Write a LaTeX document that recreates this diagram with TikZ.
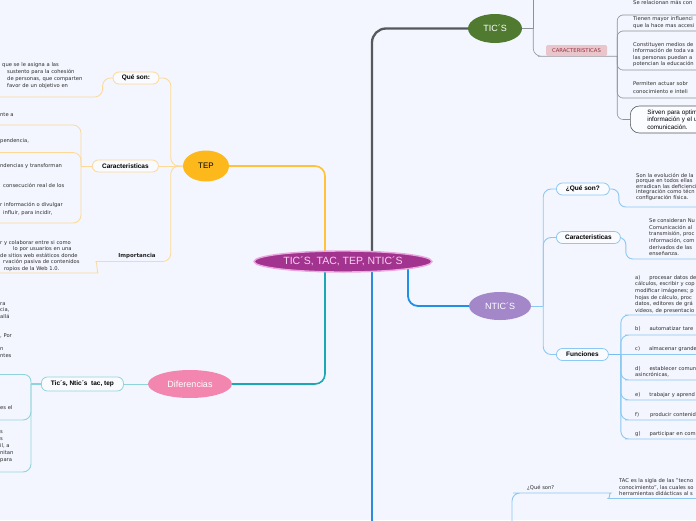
\documentclass[tikz,border=0pt]{standalone}
\usepackage{fontspec}
\setmainfont{DejaVu Sans}
\newfontfamily\rotulo{Liberation Sans}
\usetikzlibrary{shapes.geometric, positioning, backgrounds}
\definecolor{fondo}{HTML}{F3F6FE}
\definecolor{texto}{HTML}{2C2C2C}
\definecolor{centro}{HTML}{A2338F}
\definecolor{centroborde}{HTML}{EBA6E0}
\definecolor{centrotexto}{HTML}{F8D2F1}
\definecolor{tep}{HTML}{FDB81C}
\definecolor{tepfuerte}{HTML}{FFC239}
\definecolor{tepsuave}{HTML}{FDD995}
\definecolor{tics}{HTML}{4F7A2F}
\definecolor{ticsfuerte}{HTML}{55595D}
\definecolor{ticssuave}{HTML}{8E9297}
\definecolor{rosa}{HTML}{E9C6CC}
\definecolor{rosatexto}{HTML}{97303F}
\definecolor{dif}{HTML}{F386AF}
\definecolor{diffuerte}{HTML}{1AA8B4}
\definecolor{difsuave}{HTML}{8ED4DA}
\definecolor{ntics}{HTML}{A387C9}
\definecolor{ntfuerte}{HTML}{1E90E8}
\definecolor{ntsuave}{HTML}{8CC8F2}
\definecolor{tacfuerte}{HTML}{2D8BDD}

\begin{document}
\begin{tikzpicture}[
    x=1pt, y=-1pt,
    tema/.style={ellipse, inner sep=0pt, text=white, font=\rotulo\fontsize{9}{11}\selectfont},
    caja/.style={rectangle, draw, rounded corners=6pt, line width=0.8pt, fill=white!60!fondo,
                 minimum height=12pt, inner sep=0pt, text=black, font=\rotulo\bfseries\fontsize{6.5}{8}\selectfont},
    hoja/.style={anchor=base west, align=left, inner sep=0pt, text width=120pt, text=texto,
                 font=\fontsize{5.2}{6.6}\selectfont},
    rama/.style={line width=0.8pt, rounded corners=8pt},
    tepl/.style={rama, tepsuave},
    ticl/.style={rama, ticssuave, line width=0.6pt},
    difl/.style={rama, difsuave, line width=0.9pt},
    ntl/.style={rama, ntsuave, line width=0.9pt},
  ]
  \useasboundingbox (0,0) rectangle (696,520);
  % centro
  \node[tema, fill=centro, draw=centroborde, line width=1.4pt, minimum width=178pt, minimum height=21pt,
        text=centrotexto, font=\rotulo\fontsize{10.5}{12}\selectfont] (centro) at (343,261.5) {TIC´S, TAC, TEP, NTIC´S};
  % TEP
  \node[tema, fill=tep, text=black, font=\rotulo\fontsize{8}{10}\selectfont, minimum width=46pt, minimum height=31pt] (tep) at (206,166) {TEP};
  \node[caja, draw=tepsuave, minimum width=66pt, left=24pt of tep] (carTep) {Caracteristicas};
  \node[caja, draw=tepsuave, minimum width=46pt] (queTep) at (136,78) {Qué son:};
  \node[anchor=base, inner sep=0pt, font=\bfseries\fontsize{5.5}{7}\selectfont, text=black!85] (impTep) at (137,257.5) {Importancia};
  \node[hoja, font=\fontsize{5.2}{6.9}\selectfont] (queTepTxt) at (2,66.7) {que se le asigna a las\\\hspace*{5pt}sustento para la cohesión\\\hspace*{5pt}de personas, que comparten\\\hspace*{5pt}favor de un objetivo en};
  \node[hoja] (carTep1) at (0,116) {nte a};
  \node[hoja] (carTep2) at (0,142) {pendencia,};
  \node[hoja] (carTep3) at (0,167.7) {ndencias y transforman\\[13.4pt]\hspace*{3pt}consecución real de los\\[11.7pt]r información o divulgar\\[1.4pt]\hspace*{3pt}influir, para incidir,};
  \node[hoja, font=\fontsize{5.2}{6.5}\selectfont] (impTxt) at (0,244) {r y colaborar entre si como\\\hspace*{13pt}lo por usuarios en una\\de sitios web estáticos donde\\\hspace*{3pt}rvación pasiva de contenidos\\\hspace*{4pt}ropios de la Web 1.0.};
  % TIC'S
  \node[tema, fill=tics, minimum width=54pt, minimum height=29pt] (tics) at (495,28.5) {TIC´S};
  \node[rectangle, fill=rosa, rounded corners=1.5pt, minimum width=61pt, minimum height=11pt, inner sep=0pt,
        text=rosatexto, font=\fontsize{5.3}{6}\selectfont] (carTic) at (576.5,50.5) {CARACTERISTICAS};
  \node[hoja] (carTic1) at (633,4) {Se relacionan más con};
  \node[hoja, font=\fontsize{5.2}{6.7}\selectfont] (carTic2) at (633,20.5) {Tienen mayor influenci\\que la hace mas accesi};
  \node[hoja, font=\fontsize{5.2}{6.4}\selectfont] (carTic3) at (633,46.5) {Constituyen medios de\\información de toda va\\las personas puedan a\\potencian la educación};
  \node[hoja, font=\fontsize{5.2}{7.5}\selectfont] (carTic4) at (633,85.5) {Permiten actuar sobr\\conocimiento e inteli};
  \node[rectangle, draw=ticsfuerte, line width=0.6pt, rounded corners=9pt, fill=white!70!fondo, anchor=west,
        minimum height=27pt, text width=80pt, inner xsep=17pt, inner ysep=0pt, align=left,
        font=\rotulo\fontsize{6.3}{7.5}\selectfont] (carTic5) at (630,119.5) {Sirven para optim\\información y el u\\comunicación.};
  % Diferencias
  \node[tema, fill=dif, minimum width=84pt, minimum height=28pt] (dif) at (190,384) {Diferencias};
  \node[caja, draw=difsuave, minimum width=82pt, minimum height=14pt, left=24pt of dif] (ticsDif) {Tic´s, Ntic´s~ tac, tep};
  \node[hoja, font=\fontsize{5.2}{6.5}\selectfont] (dif1) at (0,305) {ra\\cia,\\allá\\[13pt], Por\\[6.5pt]n\\ntes};
  \node[hoja] (dif2) at (0,409) {es el};
  \node[hoja, font=\fontsize{5.2}{6.9}\selectfont] (dif3) at (0,433.5) {s\\s\\il, a\\nitan\\para};
  % NTIC'S
  \node[tema, fill=ntics, minimum width=62pt, minimum height=28pt] (ntics) at (500,306) {NTIC´S};
  \node[caja, draw=ntsuave, minimum width=53pt, anchor=west] (queNt) at (556,189) {¿Qué son?};
  \node[caja, draw=ntsuave, minimum width=64pt, anchor=west] (carNt) at (556,237.5) {Caracteristicas};
  \node[caja, draw=ntsuave, minimum width=52pt, anchor=west] (funNt) at (556,354.5) {Funciones};
  \node[hoja, font=\fontsize{5.2}{5.6}\selectfont] (queNtTxt) at (636,177) {Son la evolución de la\\porque en todos ellas\\erradican las deficiencia\\integración como técn\\configuración física.};
  \node[hoja] (carNtTxt) at (649,222.7) {Se consideran Nu\\Comunicación al\\transmisión, proc\\información, com\\derivados de las\\enseñanza.};
  \node[hoja] (funA) at (635,279.3) {a)\hspace{9pt}procesar datos de\\cálculos, escribir y cop\\modificar imágenes; p\\hojas de cálculo, proc\\datos, editores de grá\\videos, de presentacio};
  \node[hoja] (funB) at (635,330.7) {b)\hspace{9pt}automatizar tare};
  \node[hoja] (funC) at (635,350.3) {c)\hspace{9pt}almacenar grande};
  \node[hoja] (funD) at (635,370) {d)\hspace{9pt}establecer comun\\asincrónicas,};
  \node[hoja] (funE) at (635,396) {e)\hspace{9pt}trabajar y aprend};
  \node[hoja] (funF) at (635,416) {f)\hspace{11pt}producir contenid};
  \node[hoja] (funG) at (635,435.5) {g)\hspace{9pt}participar en com};
  % TAC
  \node[hoja] (queTac) at (527,489) {¿Qué son?};
  \node[hoja, font=\fontsize{5.2}{6.5}\selectfont] (tacTxt) at (619,482.7) {TAC es la sigla de las "tecno\\conocimiento", las cuales so\\herramientas didácticas al s};

  \begin{pgfonlayer}{background}
    \fill[fondo] (0,0) rectangle (696,520);
    \coordinate (c-tep) at (325,261);
    \coordinate (c-tic) at (372,261);
    \coordinate (c-dif) at (325,262);
    \coordinate (c-tac) at (372,262);
    \coordinate (c-nt) at (408,262);
    % ramas principales
    \draw[tepfuerte, line width=1.6pt, rounded corners=10pt] (tep.east) -| (c-tep);
    \draw[ticsfuerte, line width=2.3pt, rounded corners=14pt] (c-tic) |- (tics.west);
    \draw[diffuerte, line width=1.6pt, rounded corners=10pt] (c-dif) |- (dif.east);
    \draw[ntfuerte, line width=1.8pt, rounded corners=10pt] (c-nt) |- (ntics.west);
    \draw[tacfuerte, line width=1.6pt] (c-tac) -- ++(0,270);
    % TEP
    \coordinate (u-que) at (-2,97);
    \coordinate (u-c1) at (-2,125);
    \coordinate (u-c2) at (-2,152.5);
    \coordinate (u-c3) at (-2,223);
    \coordinate (u-imp) at (104,261.5);
    \coordinate (u-impTxt) at (90,273);
    \draw[tepl] (tep.west) -- ++(-12,0) |- (queTep.east);
    \draw[tepl] (tep.west) -- (carTep.east);
    \draw[tepl] (tep.west) -- ++(-12,0) |- (u-imp) to[out=180,in=0] (u-impTxt) -- ++(-95,0);
    \draw[tepl] (queTep.west) -- ++(-10,0) |- (u-que);
    \draw[tepl] (carTep.west) -- ++(-11,0) coordinate (jCar);
    \draw[tepl] (jCar) |- (u-c1);
    \draw[tepl] (jCar) |- (u-c2);
    \draw[tepl] (jCar) |- (u-c3);
    % TIC'S
    \coordinate (u-t1) at (628,15);
    \coordinate (u-t2) at (628,31);
    \coordinate (u-t3) at (628,70);
    \coordinate (u-t4) at (628,98);
    \draw[ticl] (tics.east) -- ++(11,0) coordinate (jTic);
    \draw[ticl] (jTic) -- ++(0,-40);
    \draw[ticl] (jTic) |- (carTic.south west) -- (carTic.south east) -- ++(10,0) coordinate (jCarTic);
    \draw[ticl, rounded corners=6pt] (jCarTic) |- (u-t1) -- ++(80,0);
    \draw[ticl, rounded corners=6pt] (jCarTic) |- (u-t2) -- ++(80,0);
    \draw[ticl, rounded corners=6pt] (jCarTic) |- (u-t3) -- ++(80,0);
    \draw[ticl, rounded corners=6pt] (jCarTic) |- (u-t4) -- ++(80,0);
    \draw[ticl, rounded corners=6pt] (jCarTic) |- (carTic5.west);
    % Diferencias
    \coordinate (u-d1) at (-2,374.5);
    \coordinate (u-d2) at (-2,420);
    \coordinate (u-d3) at (-2,472);
    \draw[difl] (dif.west) -- (ticsDif.east);
    \draw[difl, line width=1.3pt] (ticsDif.west) -- ++(-10,0) coordinate (jDif);
    \draw[difl, rounded corners=7pt] (jDif) |- (u-d1);
    \draw[difl] (jDif) |- (u-d2);
    \draw[difl] (jDif) |- (u-d3);
    % NTIC'S
    \coordinate (u-nq) at (633,207);
    \coordinate (u-nc) at (640,259);
    \coordinate (u-fa) at (633,315);
    \coordinate (u-fb) at (633,335);
    \coordinate (u-fd) at (633,380);
    \coordinate (u-fe) at (633,400);
    \coordinate (u-ff) at (633,420);
    \coordinate (u-fg) at (633,439);
    \draw[ntl] (ntics.east) -- ++(12,0) coordinate (jNt);
    \draw[ntl] (jNt) |- (queNt.west);
    \draw[ntl] (jNt) |- (carNt.west);
    \draw[ntl] (jNt) |- (funNt.west);
    \draw[ntl, rounded corners=7pt] (queNt.east) -- ++(9,0) |- (u-nq) -- ++(70,0);
    \draw[ntl, rounded corners=7pt] (carNt.east) -- ++(5,0) |- (u-nc) -- ++(60,0);
    \draw[ntfuerte!60, line width=1.8pt] (funNt.east) -- ++(12,0) coordinate (jFun);
    \draw[ntl] (jFun) |- (u-fa) -- ++(70,0);
    \draw[ntl] (jFun) |- (u-fb) -- ++(70,0);
    \draw[ntl] (jFun) -- ++(90,0);
    \draw[ntl] (jFun) |- (u-fd) -- ++(70,0);
    \draw[ntl] (jFun) |- (u-fe) -- ++(70,0);
    \draw[ntl] (jFun) |- (u-ff) -- ++(70,0);
    \draw[ntl] (jFun) |- (u-fg) -- ++(70,0);
    % TAC
    \coordinate (tacNodo) at (512,530);
    \coordinate (u-tq) at (521,493);
    \coordinate (u-tq2) at (603,493);
    \coordinate (u-tt) at (616,498.5);
    \draw[ntl] (tacNodo) |- (u-tq) -- (u-tq2) to[out=0,in=180] (u-tt) -- ++(90,0);
  \end{pgfonlayer}
\end{tikzpicture}
\end{document}
